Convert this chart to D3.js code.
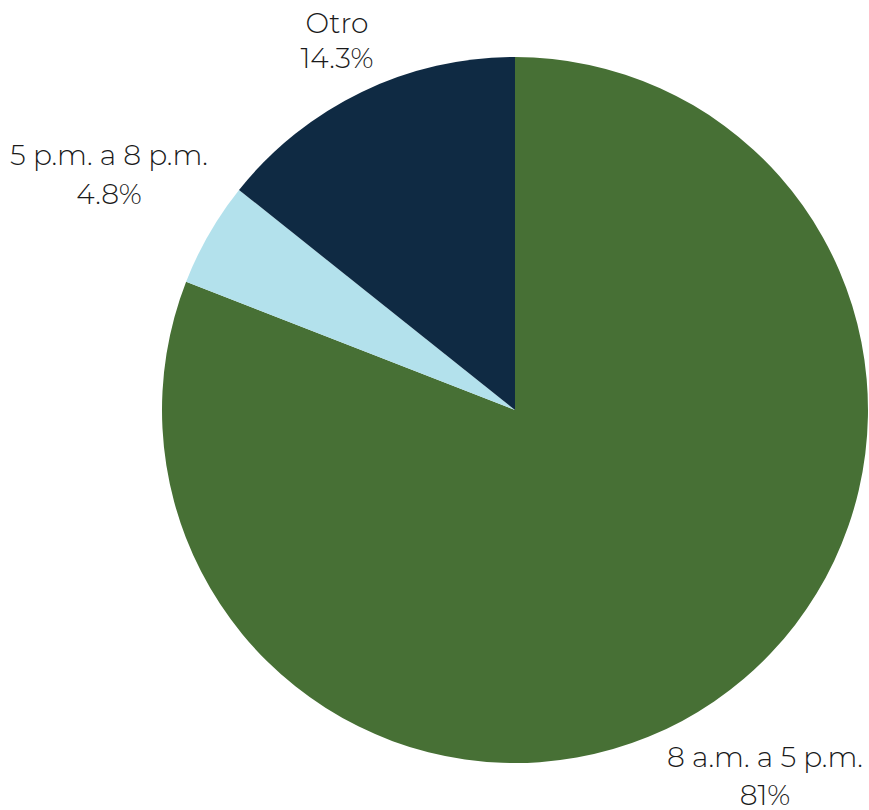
<!DOCTYPE html>
<html><head><meta charset="utf-8">
<script src="https://cdn.jsdelivr.net/npm/d3@7"></script>
<style>html,body{margin:0;padding:0;background:#fff;}</style>
</head><body>
<svg id="chart" width="869" height="810"></svg>
<script>
const categories = ["8 a.m. a 5 p.m.", "5 p.m. a 8 p.m.", "Otro"];
const values = [81, 4.8, 14.3];
const valueLabels = ["81%", "4.8%", "14.3%"];
const colors = ["#477035", "#b3e1ec", "#0f2a43"];

const svg = d3.select("#chart");
const cx = 515, cy = 410, r = 353;
const data = categories.map((c, i) => ({cat: c, value: values[i], label: valueLabels[i], color: colors[i]}));
const pie = d3.pie().value(d => d.value).sort(null);
const arc = d3.arc().innerRadius(0).outerRadius(r);
const g = svg.append("g").attr("transform", `translate(${cx},${cy})`);
const arcs = pie(data);
g.selectAll("path").data(arcs).enter().append("path")
  .attr("d", arc).attr("fill", d => d.data.color);

const labelPos = [
  {x: 765, y1: 767, y2: 805},
  {x: 109, y1: 165, y2: 204},
  {x: 337, y1: 33, y2: 68}
];
const lab = svg.append("g").attr("font-family", "Montserrat, 'Open Sans', sans-serif")
  .attr("font-weight", 300)
  .attr("font-size", 25).attr("fill", "#1a1a1a").attr("text-anchor", "middle");
const texts = [];
arcs.forEach((a, i) => {
  const p = labelPos[i];
  texts.push(lab.append("text").attr("x", p.x).attr("y", p.y1).text(a.data.cat));
  lab.append("text").attr("x", p.x).attr("y", p.y2).text(a.data.label);
});
// scale font so "5 p.m. a 8 p.m." spans ~198px as in the reference
const w = texts[1].node().getComputedTextLength();
if (w > 0) lab.attr("font-size", 25 * 198 / w);
</script>
</body></html>
